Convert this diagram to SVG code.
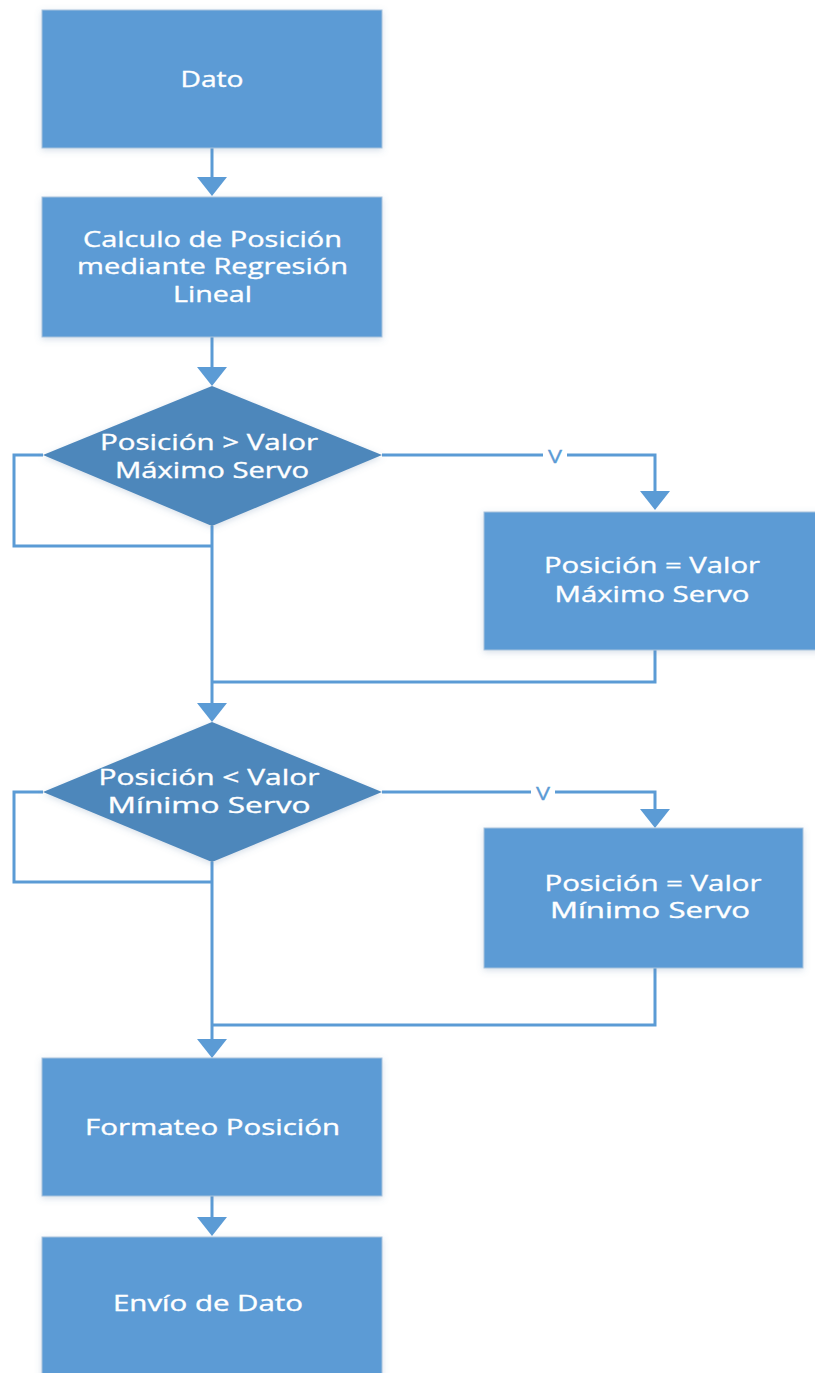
<svg xmlns="http://www.w3.org/2000/svg" width="815" height="1373" viewBox="0 0 815 1373">
<style>
.box{fill:#5B9BD5;stroke:#A9C3DD;stroke-width:1;filter:url(#sh)}
.dec{fill:#4E87BB;filter:url(#sh)}
.t{font-family:"Open Sans","Noto Sans",sans-serif;font-size:21px;fill:#FFFFFF;stroke:#FFFFFF;stroke-width:0.35;text-anchor:middle}
.lbl{font-family:"Open Sans","Noto Sans",sans-serif;font-size:19px;fill:#5B9BD5;stroke:#5B9BD5;stroke-width:0.3;text-anchor:middle}
.c{fill:none;stroke:#5B9BD5;stroke-width:3}
.a{marker-end:url(#ah)}
</style>
<defs>
<filter id="sh" x="-10%" y="-10%" width="120%" height="120%">
<feDropShadow dx="0" dy="2" stdDeviation="3" flood-color="#5B7FA8" flood-opacity="0.25"/>
</filter>
<marker id="ah" markerUnits="userSpaceOnUse" markerWidth="20" markerHeight="30" refX="0" refY="15" orient="auto">
<path d="M0,0 L19,15 L0,30 Z" fill="#5B9BD5"/>
</marker>
</defs>
<rect width="815" height="1373" fill="#FFFFFF"/>
<g id="connectors">
<path class="c a" d="M212,148 V177"/>
<path class="c a" d="M212,337 V367"/>
<path class="c a" d="M212,526 V703"/>
<path class="c" d="M43,455 H14 V546 H212"/>
<path class="c a" d="M382,455 H655 V491"/>
<path class="c" d="M655,650 V682 H212"/>
<path class="c a" d="M212,862 V1039"/>
<path class="c" d="M43,792 H14 V882 H212"/>
<path class="c a" d="M382,792 H655 V809"/>
<path class="c" d="M655,968 V1025 H212"/>
<path class="c a" d="M212,1196 V1217"/>
<rect x="543" y="445" width="24" height="19" fill="#FFFFFF"/>
<text class="lbl" x="555" y="463" textLength="14" lengthAdjust="spacingAndGlyphs">V</text>
<rect x="531" y="782" width="24" height="19" fill="#FFFFFF"/>
<text class="lbl" x="543" y="800" textLength="14" lengthAdjust="spacingAndGlyphs">V</text>
</g>
<g id="n1">
<rect class="box" x="42" y="10" width="340" height="138"/>
<text class="t" x="212" y="87" textLength="63" lengthAdjust="spacingAndGlyphs">Dato</text>
</g>
<g id="n2">
<rect class="box" x="42" y="197" width="340" height="140"/>
<text class="t" x="212.5" y="247" textLength="259" lengthAdjust="spacingAndGlyphs">Calculo de Posición</text>
<text class="t" x="212.5" y="274" textLength="271" lengthAdjust="spacingAndGlyphs">mediante Regresión</text>
<text class="t" x="212.5" y="302" textLength="79" lengthAdjust="spacingAndGlyphs">Lineal</text>
</g>
<g id="d1">
<polygon class="dec" points="212,386 382,455 212,526 43,455"/>
<text class="t" x="209" y="450" textLength="218" lengthAdjust="spacingAndGlyphs">Posición &gt; Valor</text>
<text class="t" x="212" y="478" textLength="194" lengthAdjust="spacingAndGlyphs">Máximo Servo</text>
</g>
<g id="n3">
<rect class="box" x="484" y="512" width="340" height="138"/>
<text class="t" x="652" y="573" textLength="216" lengthAdjust="spacingAndGlyphs">Posición = Valor</text>
<text class="t" x="652" y="602" textLength="195" lengthAdjust="spacingAndGlyphs">Máximo Servo</text>
</g>
<g id="d2">
<polygon class="dec" points="212,722 382,792 212,862 43,792"/>
<text class="t" x="209" y="785" textLength="221" lengthAdjust="spacingAndGlyphs">Posición &lt; Valor</text>
<text class="t" x="209" y="813" textLength="203" lengthAdjust="spacingAndGlyphs">Mínimo Servo</text>
</g>
<g id="n4">
<rect class="box" x="484" y="828" width="319" height="140"/>
<text class="t" x="653" y="891" textLength="217" lengthAdjust="spacingAndGlyphs">Posición = Valor</text>
<text class="t" x="650" y="918" textLength="200" lengthAdjust="spacingAndGlyphs">Mínimo Servo</text>
</g>
<g id="n5">
<rect class="box" x="42" y="1058" width="340" height="138"/>
<text class="t" x="212.5" y="1135" textLength="255" lengthAdjust="spacingAndGlyphs">Formateo Posición</text>
</g>
<g id="n6">
<rect class="box" x="42" y="1237" width="340" height="150"/>
<text class="t" x="208" y="1311" textLength="190" lengthAdjust="spacingAndGlyphs">Envío de Dato</text>
</g>
</svg>
